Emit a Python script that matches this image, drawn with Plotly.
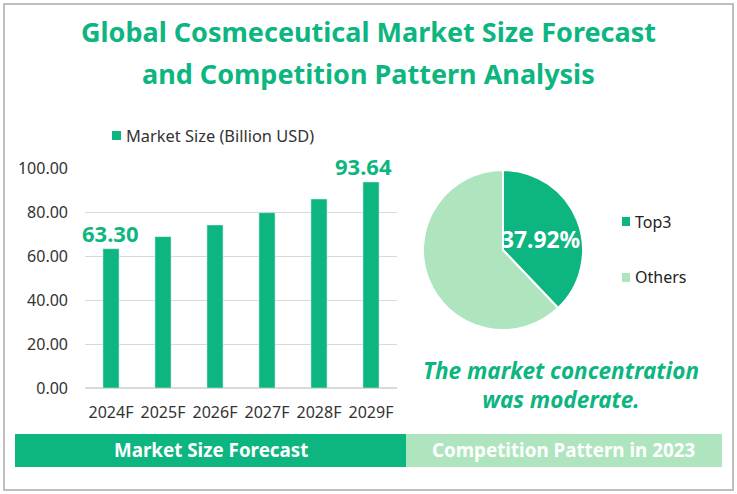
import plotly.graph_objects as go

years = ["2024F", "2025F", "2026F", "2027F", "2028F", "2029F"]
market_size = [63.30, 68.8, 74.1, 79.7, 85.9, 93.64]
series_name = "Market Size (Billion USD)"
pie_names = ["Top3", "Others"]
pie_values = [37.92, 62.08]

GREEN = "#0DB580"
LIGHT = "#AEE5BF"
FONT = "Noto Sans"
W, H = 737, 494
def px(v): return v / W
def py(v): return 1 - v / H

fig = go.Figure()
fig.add_trace(go.Bar(
    x=years, y=market_size, name=series_name, marker_color=GREEN, width=0.31,
    showlegend=False, hoverinfo="skip",
))
fig.add_trace(go.Pie(
    labels=pie_names, values=pie_values, sort=False, direction="clockwise", rotation=0,
    marker=dict(colors=[GREEN, LIGHT], line=dict(color="white", width=2)),
    textinfo="none", domain=dict(x=[px(423), px(583)], y=[py(330), py(170)]),
    showlegend=False, hoverinfo="skip",
))

def box(x0, x1, y0, y1, fill, line=None):
    return dict(type="rect", xref="paper", yref="paper", x0=px(x0), x1=px(x1), y0=py(y1), y1=py(y0),
                line=line or dict(width=0), fillcolor=fill, layer="below")

shapes = [
    box(4, 733, 4, 490, "rgba(0,0,0,0)", dict(color="#BFBFBF", width=2)),
    box(15, 406, 434, 467, GREEN),
    box(406, 722, 434, 467, LIGHT),
    box(112, 121, 131, 140, GREEN),
    box(622, 630, 217, 226, GREEN),
    box(622, 630, 273, 282, LIGHT),
]

def note(text, x, y, size, color, bold=True, italic=False, anchor="center"):
    return dict(text=text, xref="paper", yref="paper", x=px(x), y=py(y), showarrow=False,
                xanchor=anchor, yanchor="middle",
                font=dict(family=FONT, size=size, color=color, weight="bold" if bold else "normal",
                          style="italic" if italic else "normal"))

def bar_label(i, xshift):
    return dict(text=f"{market_size[i]:.2f}", xref="x", yref="y", x=years[i], y=market_size[i],
                showarrow=False, xanchor="center", yanchor="bottom", xshift=xshift, yshift=-1,
                font=dict(family=FONT, size=22, color=GREEN, weight="bold"))

annotations = [
    note("Global Cosmeceutical Market Size Forecast", 368, 32, 27, GREEN),
    note("and Competition Pattern Analysis", 368, 73, 27, GREEN),
    note(f"{pie_values[0]:.2f}%", 540, 239, 22.8, "white"),
    note("The market concentration<br>was moderate.", 561, 385, 22.5, GREEN, italic=True),
    note("Market Size Forecast", 211, 450, 18.8, "white"),
    note("Competition Pattern in 2023", 563, 450, 18.8, "white"),
    note(series_name, 124, 136, 16.4, "#333333", bold=False, anchor="left"),
    note(pie_names[0], 633, 222, 16, "#222222", bold=False, anchor="left"),
    note(pie_names[1], 633, 277, 16, "#222222", bold=False, anchor="left"),
    bar_label(0, -1),
    bar_label(5, -8),
]

fig.update_layout(
    width=W, height=H, autosize=False, margin=dict(l=0, r=0, t=0, b=0, autoexpand=False),
    paper_bgcolor="white", plot_bgcolor="white", shapes=shapes, annotations=annotations,
    font=dict(family=FONT, size=15.5, color="#333333"), showlegend=False,
    xaxis=dict(domain=[px(85), px(397)], range=[-0.5, 5.5], showgrid=False, showline=False, ticks="",
               tickfont=dict(size=16), ticklabelstandoff=13, type="category"),
    yaxis=dict(domain=[py(388), py(168)], range=[0, 100], dtick=20, tickformat=".2f",
               gridcolor="#D9D9D9", gridwidth=1, zeroline=True, zerolinecolor="#D9D9D9",
               showline=False, ticks="", ticklabelstandoff=16, tickfont=dict(size=16)),
)

fig.write_html("out.html", config=dict(displayModeBar=False),
               post_script="document.body.style.margin='0';document.body.style.overflow='hidden';")
